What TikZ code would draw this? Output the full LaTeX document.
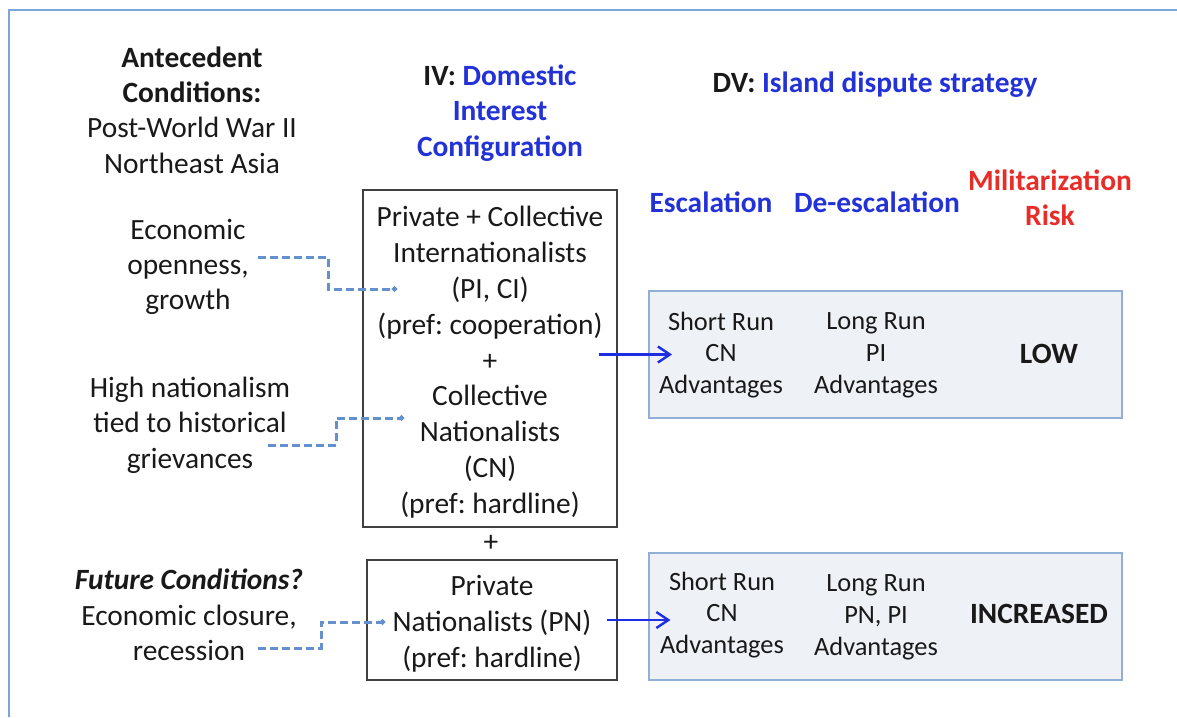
\documentclass[tikz,border=0pt]{standalone}
\usepackage{fontspec}
\setmainfont{Carlito}
\usepackage{tikz}
\usetikzlibrary{arrows.meta}
\definecolor{hblue}{RGB}{35,50,215}
\definecolor{hred}{RGB}{232,45,40}
\definecolor{framec}{RGB}{125,165,220}
\definecolor{linkc}{RGB}{100,145,205}
\definecolor{dvfill}{RGB}{238,241,246}
\definecolor{dvdraw}{RGB}{145,175,215}
\definecolor{arrowc}{RGB}{30,45,225}
\definecolor{inkc}{RGB}{25,25,25}
\frenchspacing

\begin{document}
\begin{tikzpicture}[
    x=0.5pt, y=-0.5pt,
    every node/.style={
        font=\fontsize{14.7}{17.7}\selectfont,
        align=center,
        text=inkc,
        inner sep=3pt
    },
    head/.style={
        font=\fontsize{14.7}{17.7}\selectfont\bfseries
    },
    small/.style={
        font=\fontsize{13.2}{15.9}\selectfont
    },
    cfg/.style={
        draw=black!75,
        fill=white,
        line width=0.8pt,
        font=\fontsize{14.7}{17.9}\selectfont,
        minimum width=127pt
    },
    outcome/.style={
        draw=dvdraw,
        fill=dvfill,
        line width=1pt,
        minimum width=236.5pt,
        minimum height=63.5pt
    },
    flow/.style={
        -{Straight Barb[length=6pt,width=8pt]},
        line width=1.2pt,
        draw=arrowc
    },
    link/.style={
        -{Circle[length=2.6pt]},
        dash pattern=on 4pt off 2pt,
        line width=1.5pt,
        draw=linkc
    },
    frame/.style={
        draw=framec,
        line width=1pt
    }
]
\useasboundingbox (0,0) rectangle (1177,717);
\draw [frame] (9,717) -- (9,10) -- (1177,10);

% Headings
\node (antecedent) at (192,110) {\textbf{Antecedent}\\\textbf{Conditions:}\\Post-World War II\\Northeast Asia};
\node (iv) [head, text=hblue] at (500,113) {\textcolor{inkc}{IV:} Domestic\\Interest\\Configuration};
\node (dv) [head, text=hblue] at (875,85) {\textcolor{inkc}{DV:} Island dispute strategy};
\node (escal) [head, text=hblue] at (711,202) {Escalation};
\node (deescal) [head, text=hblue] at (877,202) {De-escalation};
\node (milrisk) [head, text=hred] at (1050,198) {Militarization\\Risk};

% Conditions
\node (openness) at (188,267) {Economic\\openness,\\growth};
\node (grievance) at (190,425) {High nationalism\\tied to historical\\grievances};
\node (future) at (189,615) {\textbf{\textit{Future Conditions?}}\\Economic closure,\\recession};

% Interest configurations
\node (cfgnow) [cfg, minimum height=168.5pt] at (490,358.5) {\rule{0pt}{14pt}Private + Collective\\Internationalists\\(PI, CI)\\(pref: cooperation)\\+\\Collective\\Nationalists\\(CN)\\(pref: hardline)};
\node (plusmid) at (491,543) {+};
\node (cfgfuture) [cfg, minimum width=125pt, minimum height=60pt] at (492,620) {\rule{0pt}{14pt}Private\\Nationalists (PN)\\(pref: hardline)};

% Outcomes
\node (lowbox) [outcome] at (885.5,354.5) {};
\node (lowshort) [small] at (721,355) {Short Run\\CN\\Advantages};
\node (lowlong) [small] at (876,355) {Long Run\\PI\\Advantages};
\node (lowrisk) [head] at (1049,354) {LOW};
\node (incbox) [outcome] at (885,616) {};
\node (incshort) [small] at (722,615) {Short Run\\CN\\Advantages};
\node (inclong) [small] at (876,617) {Long Run\\PN, PI\\Advantages};
\node (incrisk) [head] at (1039,614) {INCREASED};

% Link ends
\coordinate (econstart) at (258,257);
\coordinate (grvstart) at (268,445);
\coordinate (recstart) at (258,648);
\coordinate (pici) at (397,289);
\coordinate (cnline) at (404,418);
\coordinate (pnline) at (385,622);

% Paths
\draw [link] (econstart) -- ++(70,0) |- (pici);
\draw [link] (grvstart) -- ++(68,0) |- (cnline);
\draw [link] (recstart) -- ++(63,0) |- (pnline);
\draw [flow, shorten <=-9.5pt, shorten >=-12pt] (cfgnow.east |- lowbox.west) -- (lowbox.west);
\draw [flow, shorten <=-5.5pt, shorten >=-11.5pt] (cfgfuture.east) -- (cfgfuture.east -| incbox.west);

\end{tikzpicture}
\end{document}
